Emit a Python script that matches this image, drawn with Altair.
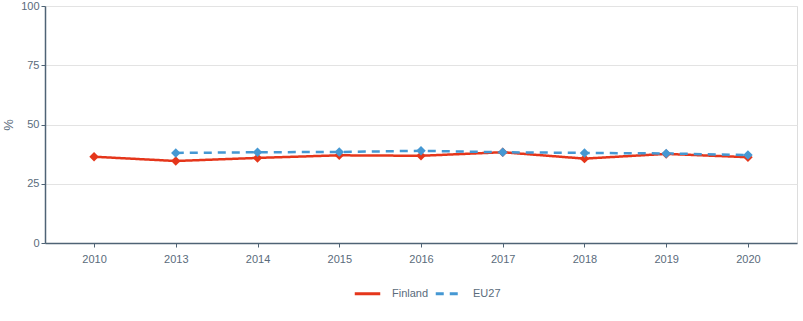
import altair as alt
import pandas as pd

years = ["2010", "2013", "2014", "2015", "2016", "2017", "2018", "2019", "2020"]
finland = [36.4, 34.6, 35.9, 37.0, 36.8, 38.3, 35.6, 37.6, 36.2]
eu_years = ["2013", "2014", "2015", "2016", "2017", "2018", "2019", "2020"]
eu27 = [38.0, 38.3, 38.4, 38.9, 38.3, 38.0, 37.8, 37.1]

rows = [{"country": "Finland", "year": y, "value": v} for y, v in zip(years, finland)]
rows += [{"country": "EU27", "year": y, "value": v} for y, v in zip(eu_years, eu27)]
df = pd.DataFrame(rows)

axis_color = "#4f6375"
label_color = "#5a6b7b"
font = "Liberation Sans"

legend = alt.Legend(
    title=None, orient="none", direction="horizontal", legendX=308, legendY=273,
    symbolType="stroke", symbolSize=650, symbolStrokeWidth=3, labelOffset=10,
    labelColor=label_color, labelFontSize=11, labelFont=font, columnPadding=0,
)

color = alt.Color(
    "country:N",
    scale=alt.Scale(domain=["Finland", "EU27"], range=["#e5361b", "#4598d3"]),
    legend=legend,
)
dash = alt.StrokeDash(
    "country:N",
    scale=alt.Scale(domain=["Finland", "EU27"], range=[[1, 0], [8, 6]]),
    legend=legend,
)

x = alt.X(
    "year:O", sort=years, title=None,
    scale=alt.Scale(type="point", padding=0.6),
    axis=alt.Axis(labelAngle=0, domainColor=axis_color, domainWidth=1.5, tickColor=axis_color,
                  tickSize=4, labelColor=label_color, labelFontSize=11, labelFont=font,
                  labelPadding=6, grid=False),
)
y = alt.Y(
    "value:Q", title="%",
    scale=alt.Scale(domain=[0, 100]),
    axis=alt.Axis(values=[0, 25, 50, 75, 100], domainColor=axis_color, domainWidth=1.5,
                  tickColor=axis_color, tickSize=4, labelColor=label_color, labelFontSize=11,
                  labelFont=font, gridColor="#e3e3e3", gridWidth=1.2, titleColor=label_color,
                  titleFont=font, titleFontSize=13, titleFontWeight="normal", titlePadding=5),
)

chart = (
    alt.Chart(df)
    .mark_line(strokeWidth=2.5, point=alt.OverlayMarkDef(shape="diamond", size=90, filled=True, opacity=1))
    .encode(x=x, y=y, color=color, strokeDash=dash, order=alt.Order("year:O"))
    .properties(
        width=752, height=237,
        autosize=alt.AutoSizeParams(type="none"),
        padding={"left": 45, "top": 6, "right": 6, "bottom": 78},
    )
    .configure_view(stroke=None)
    .configure(background="white")
)

chart.save("out.html", embed_options={"renderer": "svg", "actions": False})
